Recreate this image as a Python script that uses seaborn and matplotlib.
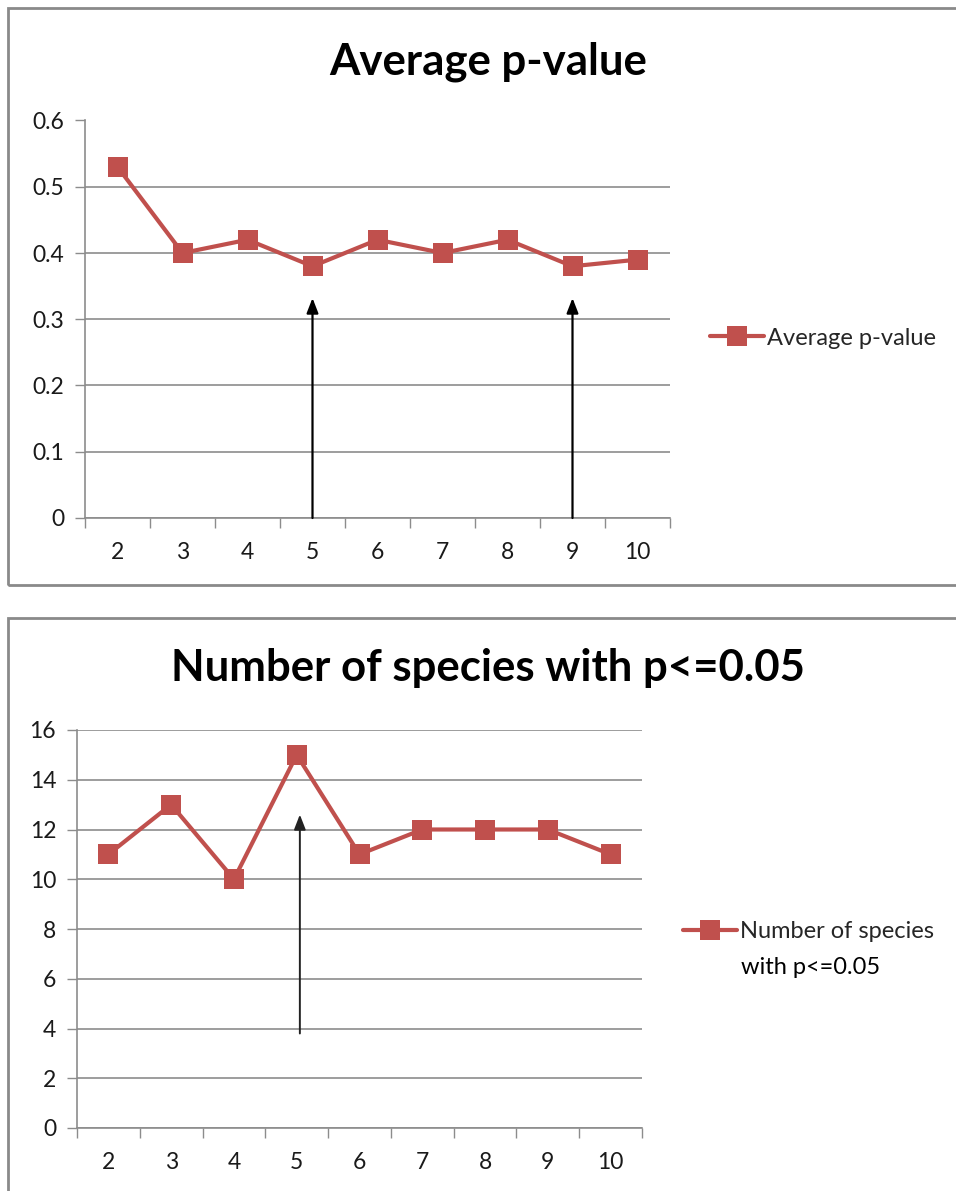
import matplotlib
matplotlib.use("Agg")
import matplotlib.pyplot as plt
import seaborn as sns
import pandas as pd
from matplotlib.patches import Rectangle

# ---- data ----
categories = [2, 3, 4, 5, 6, 7, 8, 9, 10]
avg_p = [0.53, 0.40, 0.42, 0.38, 0.42, 0.40, 0.42, 0.38, 0.39]
n_species = [11, 13, 10, 15, 11, 12, 12, 12, 11]
top_title = "Average p-value"
bottom_title = "Number of species with p<=0.05"
top_label = "Average p-value"
bottom_label_lines = ["Number of species", "with p<=0.05"]
top_yticks = [0, 0.1, 0.2, 0.3, 0.4, 0.5, 0.6]
top_yticklabels = ["0", "0.1", "0.2", "0.3", "0.4", "0.5", "0.6"]
bottom_yticks = [0, 2, 4, 6, 8, 10, 12, 14, 16]
top_arrows_x = [5, 9]
top_arrow_tip = 0.332
bottom_arrows_x = [5.05]
bottom_arrow_base = 3.8
bottom_arrow_tip = 12.6

sns.set_style("white")
plt.rcParams['font.family'] = ['Lato', 'DejaVu Sans']

W, H = 956, 1191
DPI = 100
fig = plt.figure(figsize=(W / DPI, H / DPI), dpi=DPI)
fig.patch.set_facecolor("white")

RED = "#C0504D"
GRID = "#8c8c8c"
TICKFS = 16.5
LEGFS = 17
TITLEFS = 31.5


def fx(px):
    return px / W


def fy(py):
    return 1 - py / H


# panel borders
for (x0, y0, x1, y1) in [(8, 8, 962, 585), (8, 618, 962, 1200)]:
    fig.patches.append(Rectangle((fx(x0), fy(y1)), fx(x1 - x0), (y1 - y0) / H,
                                 transform=fig.transFigure, fill=False,
                                 edgecolor="#8a8a8a", linewidth=2.0, zorder=0))


def make_axes(left, right, top, bottom):
    return fig.add_axes([fx(left), fy(bottom), fx(right - left), (bottom - top) / H])


def style_axes(ax, yticks, ylabels, ylim):
    ax.set_xlim(1.5, 10.5)
    ax.set_ylim(*ylim)
    ax.set_xticks(categories)
    ax.set_xticklabels([str(c) for c in categories])
    ax.set_xticks([c + 0.5 for c in [1] + categories], minor=True)
    ax.set_yticks(yticks)
    ax.set_yticklabels(ylabels)
    ax.tick_params(axis="x", which="major", length=0, pad=17, labelsize=TICKFS,
                   labelcolor="#1a1a1a")
    ax.tick_params(axis="x", which="minor", length=7, width=1, color=GRID,
                   direction="out", bottom=True)
    ax.tick_params(axis="y", which="major", length=7, width=1, color=GRID,
                   direction="out", left=True, pad=8, labelsize=TICKFS,
                   labelcolor="#1a1a1a")
    ax.grid(axis="y", color=GRID, linewidth=1.2)
    ax.grid(axis="x", visible=False)
    ax.set_axisbelow(True)
    for s in ["top", "right"]:
        ax.spines[s].set_visible(False)
    for s in ["left", "bottom"]:
        ax.spines[s].set_color(GRID)
        ax.spines[s].set_linewidth(1.2)
    ax.set_xlabel("")
    ax.set_ylabel("")


# ---- top chart ----
ax1 = make_axes(85, 670, 120.5, 518)
df1 = pd.DataFrame({"k": categories, "v": avg_p})
sns.lineplot(data=df1, x="k", y="v", ax=ax1, color=RED, linewidth=3.0,
             marker="s", markersize=14, markeredgewidth=0, label=top_label,
             legend=False)
style_axes(ax1, top_yticks, top_yticklabels, (0, 0.6))
for xa in top_arrows_x:
    ax1.annotate("", xy=(xa, top_arrow_tip), xytext=(xa, 0),
                 arrowprops=dict(arrowstyle="-|>,head_length=0.9,head_width=0.35",
                                 color="black", lw=1.6, shrinkA=0, shrinkB=0))
h, l = ax1.get_legend_handles_labels()
fig.legend(h, l, loc="center left", bbox_to_anchor=(fx(710), fy(338)),
           bbox_transform=fig.transFigure, frameon=False, borderpad=0,
           borderaxespad=0, handlelength=2.3, handletextpad=0.12, fontsize=LEGFS)
fig.text(fx(488), fy(62), top_title, ha="center", va="center", fontsize=TITLEFS,
         fontweight="bold", color="black")

# ---- bottom chart ----
ax2 = make_axes(77, 642, 730, 1128)
df2 = pd.DataFrame({"k": categories, "v": n_species})
sns.lineplot(data=df2, x="k", y="v", ax=ax2, color=RED, linewidth=3.0,
             marker="s", markersize=14, markeredgewidth=0,
             label=bottom_label_lines[0], legend=False)
style_axes(ax2, bottom_yticks, [str(t) for t in bottom_yticks], (0, 16))
for xa in bottom_arrows_x:
    ax2.annotate("", xy=(xa, bottom_arrow_tip), xytext=(xa, bottom_arrow_base),
                 arrowprops=dict(arrowstyle="-|>,head_length=0.9,head_width=0.35",
                                 color="#222222", lw=1.4, shrinkA=0, shrinkB=0))
h, l = ax2.get_legend_handles_labels()
fig.legend(h, l, loc="center left", bbox_to_anchor=(fx(683), fy(932)),
           bbox_transform=fig.transFigure, frameon=False, borderpad=0,
           borderaxespad=0, handlelength=2.3, handletextpad=0.12, fontsize=LEGFS)
fig.text(fx(741), fy(967), bottom_label_lines[1], ha="left", va="center",
         fontsize=LEGFS, color="black")
fig.text(fx(488), fy(668), bottom_title, ha="center", va="center", fontsize=TITLEFS,
         fontweight="bold", color="black")

fig.savefig("out.png", dpi=DPI)
